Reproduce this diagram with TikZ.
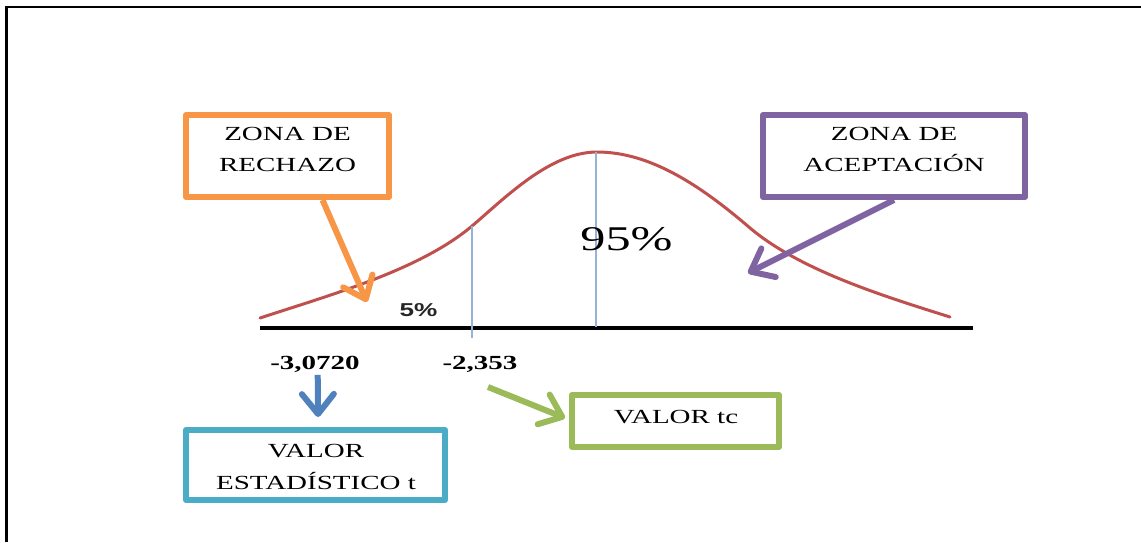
\documentclass[tikz,border=0pt]{standalone}
\usepackage{fontspec}
\setmainfont{Liberation Serif}[FakeStretch=1.45]
\newfontfamily\sansw{Liberation Sans}[FakeStretch=1.4]
\usetikzlibrary{arrows.meta}
\definecolor{cred}{HTML}{C0504D}
\definecolor{cline}{HTML}{95B3D7}
\definecolor{corange}{HTML}{F79646}
\definecolor{cpurple}{HTML}{8064A2}
\definecolor{cteal}{HTML}{4BACC6}
\definecolor{cgreen}{HTML}{9BBB59}
\definecolor{cblue}{HTML}{4F81BD}
\begin{document}
\begin{tikzpicture}[x=0.75pt,y=-0.75pt,
  frameline/.style={draw=black, line width=1.9pt},
  axisline/.style={draw=black, line width=3pt},
  curve/.style={draw=cred, line width=2.25pt, line cap=round},
  vline/.style={draw=cline, line width=1.5pt},
  boxframe/.style={draw, line width=4.5pt, line join=round, inner sep=0pt},
  boxtext/.style={align=center, inner sep=0pt, font=\fontsize{15}{23.25}\selectfont},
  num/.style={inner sep=0pt, text depth=0pt, font=\bfseries\fontsize{15}{18}\selectfont},
  pct/.style={inner sep=0pt, text depth=0pt, text=black!85, font=\sansw\bfseries\fontsize{14}{16}\selectfont},
  big/.style={inner sep=0pt, text depth=0pt, font=\fontsize{26}{31}\selectfont},
  barrow/.style={line width=4.5pt, -{Straight Barb[length=15pt, width=24pt, round]}}
]
\useasboundingbox (0,0) rectangle (1141,542);

% outer frame (top and left only)
\draw[frameline] (6.5,542) -- (6.5,7) -- (1141,7);

% axis and curve
\draw[axisline] (260,327.5) -- (973,327.5);
\draw[curve] (260,318) .. controls (330,295) and (420,270) .. (472,226)
  .. controls (505,198) and (550,152) .. (597,152)
  .. controls (650,152) and (700,185) .. (750,228)
  .. controls (800,270) and (880,295) .. (950,317);
\draw[vline] (472,226) -- (472,338);
\draw[vline] (596,152) -- (596,327);

% labels on the graph
\node[num] (n1) at (315,363) {-3,0720};
\node[num] (n2) at (480,363) {-2,353};
\node[pct] (p5) at (418.5,310) {5\%};
\node[big] (p95) at (626.5,239) {95\%};

% boxes
\node[boxframe, draw=corange, minimum width=152.25pt, minimum height=61.5pt] (zr) at (287.5,156) {};
\node[boxframe, draw=cpurple, minimum width=196.5pt, minimum height=61.5pt] (za) at (894,156) {};
\node[boxframe, draw=cteal, minimum width=194.25pt, minimum height=52.5pt] (vt) at (315.5,465) {};
\node[boxframe, draw=cgreen, minimum width=155.25pt, minimum height=39pt] (tc) at (675.5,421) {};

\node[boxtext] (zrt) at (287.5,149.5) {ZONA DE\\RECHAZO};
\node[boxtext] (zat) at (894,149.5) {ZONA DE\\ACEPTACIÓN};
\node[boxtext, font=\fontsize{15}{24}\selectfont] (vtt) at (316,467) {VALOR\\ESTADÍSTICO t};
\node[boxtext] (tct) at (676,417) {VALOR tc};

% arrows
\coordinate (otip) at (367,302);
\coordinate (ptip) at (748,273);
\coordinate (gtail) at (488,387);
\draw[barrow, draw=corange] ([xshift=26.25pt]zr.south) -- (otip);
\draw[barrow, draw=cpurple] (za.south) -- (ptip);
\draw[barrow, draw=cblue, shorten <=3.75pt, shorten >=7.5pt] ([xshift=2pt]n1.south) -- ([xshift=2pt]vt.north);
\draw[barrow, draw=cgreen] (gtail) -- ([shift={(-4,-3)}]tc.west);
\end{tikzpicture}
\end{document}
